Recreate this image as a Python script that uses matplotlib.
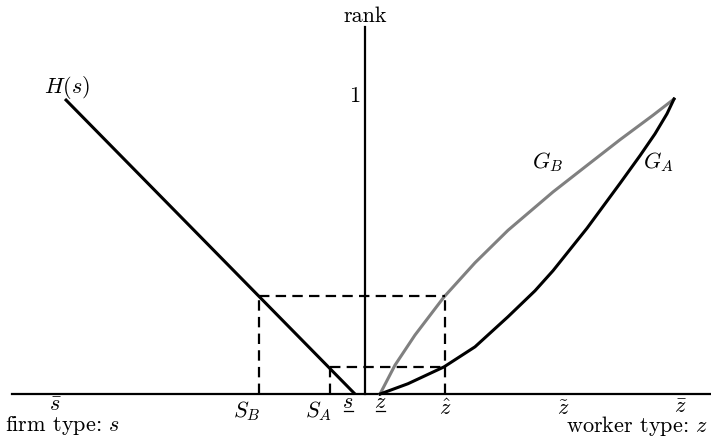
import matplotlib
matplotlib.use('Agg')
import matplotlib.pyplot as plt

plt.rcParams['mathtext.fontset'] = 'cm'
plt.rcParams['font.family'] = 'serif'
plt.rcParams['font.serif'] = ['cmr10']
plt.rcParams['axes.formatter.use_mathtext'] = True
plt.rcParams['lines.scale_dashes'] = False

# H(s): firm side, straight line from s-bar down to s_
H_s = [-3.00, -0.10]
H_rank = [1.0, 0.0]

# G_B (grey, concave) and G_A (black, convex)
G_B_z = [0.15, 0.30, 0.50, 0.79, 1.10, 1.43, 1.88, 2.22, 2.55, 2.88, 3.09]
G_B_rank = [0.0, 0.098, 0.200, 0.329, 0.445, 0.555, 0.685, 0.775, 0.862, 0.945, 1.0]
G_A_z = [0.15, 0.43, 0.79, 1.10, 1.43, 1.70, 1.88, 2.22, 2.55, 2.75, 2.90, 3.02, 3.09]
G_A_rank = [0.0, 0.035, 0.092, 0.160, 0.262, 0.350, 0.418, 0.562, 0.714, 0.808, 0.882, 0.950, 1.0]

# cut-offs for the dashed boxes
S_B, S_A, z_hat = -1.06, -0.35, 0.80
rank_B, rank_A = 0.332, 0.092

# labels on the horizontal axis (True = underlined)
tick_pos = [-3.10, -1.18, -0.47, -0.17, 0.15, 0.80, 1.98, 3.15]
tick_base = [-0.055, -0.075, -0.075, -0.044, -0.044, -0.068, -0.068, -0.062]
tick_txt = [r'$\bar{s}$', r'$S_B$', r'$S_A$', r'$s$',
            r'$z$', r'$\hat{z}$', r'$\tilde{z}$', r'$\bar{z}$']
tick_under = [False, False, False, True, True, False, False, False]

fig = plt.figure(figsize=(7.11, 4.39), dpi=100)
ax = fig.add_axes([0, 0, 1, 1])
ax.set_xlim(-3.65, 3.46)
ax.set_ylim(-0.149, 1.339)
ax.axis('off')

# axes
ax.plot([-3.53, 3.45], [0, 0], color='black', lw=1.6)
ax.plot([0, 0], [0, 1.244], color='black', lw=1.6)

# curves
ax.plot(H_s, H_rank, color='black', lw=2.2, solid_capstyle='butt')
ax.plot(G_B_z, G_B_rank, color='#808080', lw=2.2)
ax.plot(G_A_z, G_A_rank, color='black', lw=2.2)

# dashed boxes
dk = dict(color='black', lw=1.6, dashes=(7.5, 4.5))
ax.plot([S_B, S_B], [0, rank_B], **dk)
ax.plot([S_B, z_hat], [rank_B, rank_B], **dk)
ax.plot([z_hat, z_hat], [0, rank_B], **dk)
ax.plot([S_A, S_A], [0, rank_A], **dk)
ax.plot([S_A, z_hat], [rank_A, rank_A], **dk)

fs = 16
for p, b, t, u in zip(tick_pos, tick_base, tick_txt, tick_under):
    ax.text(p, b, t, ha='center', va='baseline', fontsize=fs)
    if u:
        ax.plot([p - 0.045, p + 0.045], [-0.058, -0.058], color='black', lw=0.9)

ax.text(0, 1.264, 'rank', ha='center', va='baseline', fontsize=fs)
ax.text(-0.05, 0.993, '1', ha='right', va='baseline', fontsize=fs)
ax.text(-2.98, 1.024, r'$H(s)$', ha='center', va='baseline', fontsize=fs)
ax.text(1.83, 0.77, r'$G_B$', ha='center', va='baseline', fontsize=fs)
ax.text(2.93, 0.77, r'$G_A$', ha='center', va='baseline', fontsize=fs)
ax.text(-3.60, -0.122, r'firm type: $s$', ha='left', va='baseline', fontsize=fs)
ax.text(3.43, -0.126, r'worker type: $z$', ha='right', va='baseline', fontsize=fs)

fig.savefig('out.png', dpi=100)
